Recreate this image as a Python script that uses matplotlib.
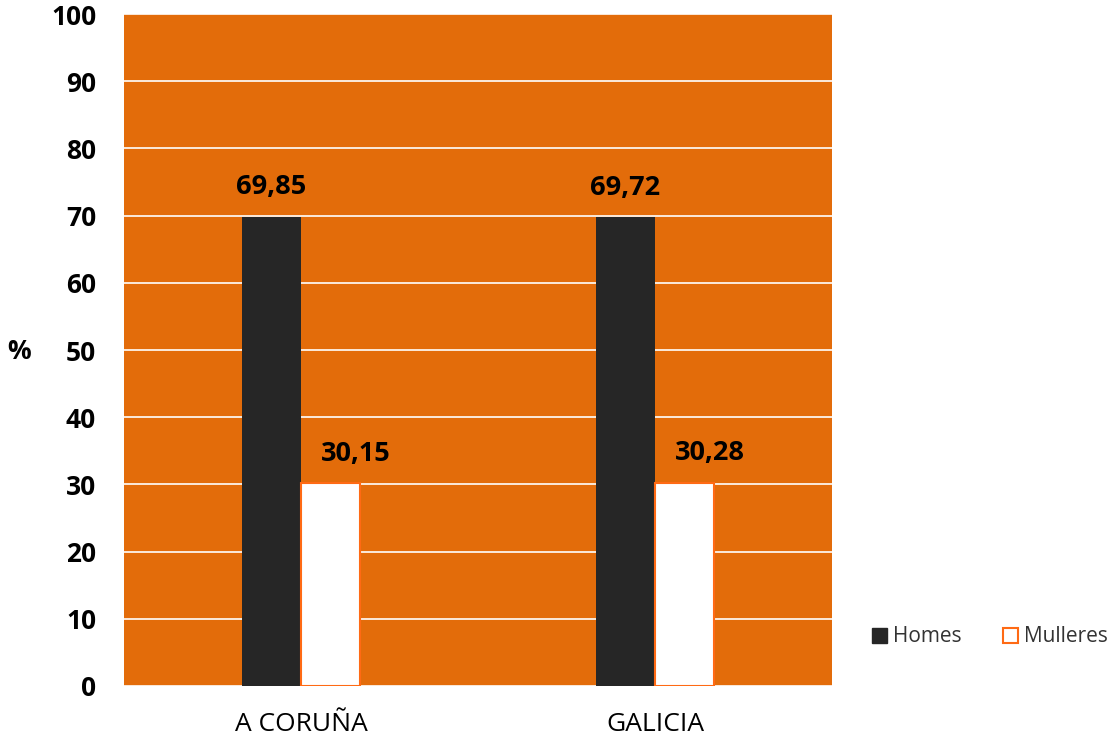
import matplotlib
matplotlib.use("Agg")
import matplotlib.pyplot as plt
from matplotlib.patches import Patch
import numpy as np

categories = ["A CORUÑA", "GALICIA"]
homes = [69.85, 69.72]
mulleres = [30.15, 30.28]
homes_labels = ["69,85", "69,72"]
mulleres_labels = ["30,15", "30,28"]
yticks = [0, 10, 20, 30, 40, 50, 60, 70, 80, 90, 100]

FONT = ["Open Sans", "DejaVu Sans"]
ORANGE = "#E36C0A"
EDGE = "#FF6A14"
DARK = "#262626"

fig = plt.figure(figsize=(11.08, 7.43), dpi=100)
ax = fig.add_axes([124/1108, 57/743, 708/1108, 672/743])
ax.set_facecolor(ORANGE)

x = np.arange(len(categories))
w = 0.167
ax.bar(x - w/2, homes, width=w, color=DARK, zorder=3)
ax.bar(x + w/2, mulleres, width=w, color="white", edgecolor=EDGE, linewidth=1.5, zorder=3)

for xi, v, lab in zip(x, homes, homes_labels):
    ax.annotate(lab, (xi - w/2, v), xytext=(0, 12), textcoords="offset points",
                ha="center", va="bottom", fontsize=19.5, fontweight="bold", family=FONT)
for xi, v, lab in zip(x, mulleres, mulleres_labels):
    ax.annotate(lab, (xi + w/2, v), xytext=(18, 12), textcoords="offset points",
                ha="center", va="bottom", fontsize=19.5, fontweight="bold", family=FONT)

ax.set_xlim(-0.5, 1.5)
ax.set_ylim(0, 100)
ax.set_yticks(yticks)
ax.set_yticklabels([str(t) for t in yticks], fontsize=19, fontweight="bold", family=FONT)
ax.set_xticks(x)
ax.set_xticklabels(categories, fontsize=19, family=FONT)
ax.tick_params(axis="both", length=0)
ax.tick_params(axis="y", pad=20)
ax.tick_params(axis="x", pad=19)
ax.grid(axis="y", color="white", linewidth=1.2, zorder=1)
ax.set_axisbelow(True)
for s in ax.spines.values():
    s.set_visible(False)

fig.text(19/1108, 1 - 352/743, "%", fontsize=19, fontweight="bold", family=FONT,
         ha="center", va="center")

handles = [Patch(facecolor=DARK, edgecolor=DARK, label="Homes"),
           Patch(facecolor="white", edgecolor=EDGE, linewidth=1.5, label="Mulleres")]
leg = fig.legend(handles=handles, loc="center", bbox_to_anchor=(990/1108, 1 - 637/743),
                 ncol=2, frameon=False, prop={"family": FONT, "size": 15},
                 handlelength=0.7, handleheight=0.7, handletextpad=0.3, columnspacing=2.0)
for t in leg.get_texts():
    t.set_color("#333333")

fig.savefig("out.png", dpi=100)
